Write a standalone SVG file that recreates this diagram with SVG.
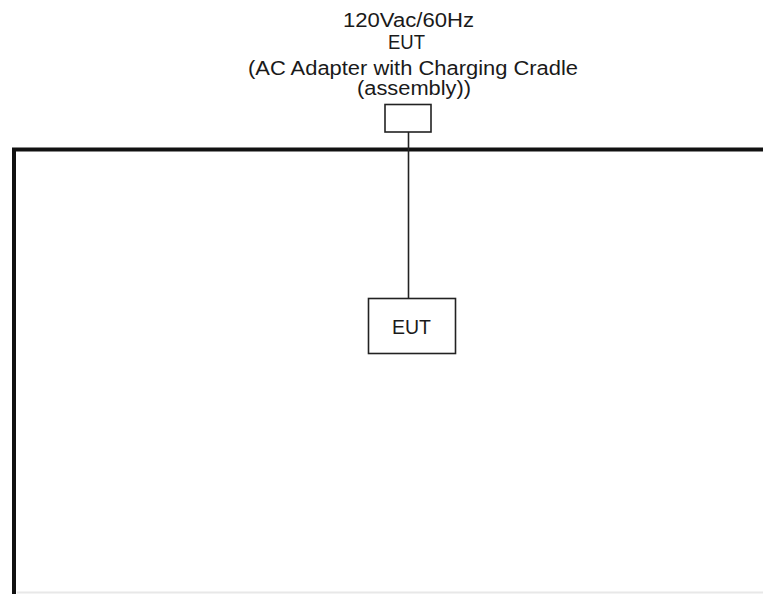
<svg xmlns="http://www.w3.org/2000/svg" width="763" height="594" viewBox="0 0 763 594">
<style>
.t{font-family:"Liberation Sans",Arial,sans-serif;font-size:20px;fill:#1a1a1a;text-anchor:middle}
.box{fill:#fff;stroke:#222;stroke-width:1.6}
.wire{stroke:#222;stroke-width:1.6;fill:none}
.frame{stroke:#111;stroke-width:4;fill:none}
</style>
<rect width="763" height="594" fill="#fff"/>
<g id="frame">
<path class="frame" d="M14 594 V149.5 H763"/>
<line x1="17" y1="592.5" x2="763" y2="592.5" stroke="#e8e8e8" stroke-width="2"/>
</g>
<g id="connectors">
<line class="wire" x1="408.5" y1="132" x2="408.5" y2="298"/>
</g>
<g id="power">
<text class="t" x="408.5" y="26.7" textLength="131" lengthAdjust="spacingAndGlyphs">120Vac/60Hz</text>
<text class="t" x="406.5" y="48.5" textLength="37" lengthAdjust="spacingAndGlyphs">EUT</text>
<text class="t" x="413" y="74.5" textLength="330" lengthAdjust="spacingAndGlyphs">(AC Adapter with Charging Cradle</text>
<text class="t" x="414" y="95" textLength="114" lengthAdjust="spacingAndGlyphs">(assembly))</text>
<rect class="box" x="385" y="104.5" width="46" height="27.5"/>
</g>
<g id="eut">
<rect class="box" x="368.5" y="298.5" width="87" height="55"/>
<text class="t" x="411.5" y="334" textLength="39" lengthAdjust="spacingAndGlyphs">EUT</text>
</g>
</svg>
